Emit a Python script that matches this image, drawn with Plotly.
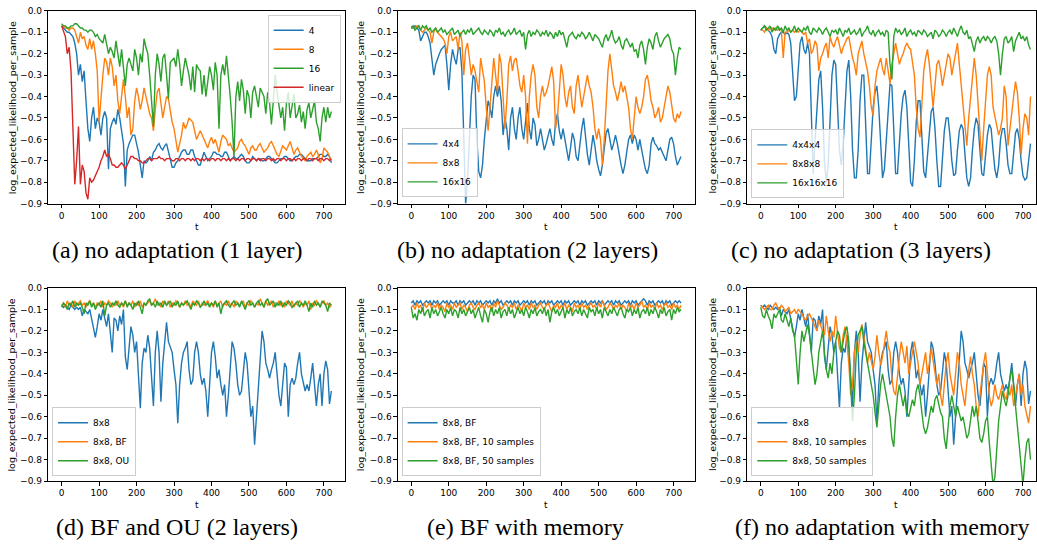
import plotly.graph_objects as go

# ---------------- data (t sampled every 5 steps, 0..720) ----------------
T = list(range(0, 721, 5))
X_TICKS = [0, 100, 200, 300, 400, 500, 600, 700]
Y_TICKS = [0.0, -0.1, -0.2, -0.3, -0.4, -0.5, -0.6, -0.7, -0.8, -0.9]

# (a) no adaptation (1 layer)
a_4 = [-0.07,-0.08,-0.09,-0.10,-0.10,-0.11,-0.12,-0.15,-0.20,-0.30,
       -0.25,-0.33,-0.28,-0.42,-0.55,-0.61,-0.50,-0.45,-0.55,-0.50,
       -0.52,-0.58,-0.50,-0.47,-0.50,-0.74,-0.55,-0.52,-0.50,-0.53,
       -0.46,-0.50,-0.55,-0.62,-0.82,-0.65,-0.62,-0.60,-0.58,-0.58,
       -0.62,-0.66,-0.72,-0.78,-0.70,-0.71,-0.70,-0.68,-0.70,-0.66,
       -0.65,-0.63,-0.62,-0.64,-0.65,-0.63,-0.62,-0.66,-0.70,-0.73,
       -0.73,-0.71,-0.70,-0.68,-0.66,-0.65,-0.65,-0.67,-0.67,-0.65,
       -0.65,-0.68,-0.70,-0.72,-0.72,-0.69,-0.66,-0.68,-0.70,-0.69,
       -0.68,-0.66,-0.66,-0.67,-0.67,-0.68,-0.68,-0.66,-0.66,-0.68,
       -0.70,-0.69,-0.68,-0.69,-0.69,-0.68,-0.67,-0.68,-0.70,-0.71,
       -0.71,-0.70,-0.68,-0.69,-0.70,-0.69,-0.69,-0.70,-0.70,-0.69,
       -0.68,-0.68,-0.69,-0.70,-0.71,-0.71,-0.70,-0.69,-0.69,-0.68,
       -0.68,-0.69,-0.70,-0.70,-0.69,-0.68,-0.68,-0.67,-0.67,-0.68,
       -0.69,-0.70,-0.70,-0.70,-0.69,-0.69,-0.69,-0.68,-0.67,-0.67,
       -0.68,-0.68,-0.67,-0.68,-0.71]
a_8 = [-0.07,-0.07,-0.08,-0.08,-0.09,-0.08,-0.08,-0.09,-0.12,-0.15,
       -0.10,-0.13,-0.12,-0.16,-0.18,-0.13,-0.18,-0.14,-0.20,-0.28,
       -0.52,-0.40,-0.30,-0.22,-0.24,-0.30,-0.22,-0.26,-0.35,-0.30,
       -0.42,-0.48,-0.40,-0.32,-0.40,-0.50,-0.45,-0.58,-0.55,-0.42,
       -0.36,-0.40,-0.46,-0.42,-0.36,-0.40,-0.45,-0.48,-0.50,-0.56,
       -0.46,-0.38,-0.36,-0.42,-0.50,-0.45,-0.40,-0.41,-0.47,-0.52,
       -0.55,-0.60,-0.66,-0.62,-0.58,-0.52,-0.55,-0.53,-0.50,-0.51,
       -0.52,-0.56,-0.60,-0.58,-0.56,-0.58,-0.60,-0.62,-0.64,-0.61,
       -0.59,-0.62,-0.60,-0.63,-0.66,-0.61,-0.58,-0.59,-0.60,-0.63,
       -0.62,-0.64,-0.66,-0.65,-0.64,-0.61,-0.60,-0.62,-0.63,-0.65,
       -0.67,-0.64,-0.63,-0.65,-0.65,-0.63,-0.62,-0.64,-0.66,-0.65,
       -0.64,-0.62,-0.61,-0.63,-0.65,-0.67,-0.68,-0.65,-0.63,-0.64,
       -0.65,-0.63,-0.61,-0.64,-0.67,-0.65,-0.64,-0.66,-0.68,-0.69,
       -0.70,-0.68,-0.67,-0.66,-0.68,-0.67,-0.65,-0.67,-0.71,-0.69,
       -0.64,-0.65,-0.66,-0.68,-0.70]
a_16 = [-0.06,-0.07,-0.07,-0.08,-0.08,-0.07,-0.07,-0.06,-0.06,-0.07,
        -0.08,-0.08,-0.09,-0.09,-0.10,-0.09,-0.09,-0.10,-0.12,-0.11,
        -0.13,-0.14,-0.15,-0.11,-0.15,-0.20,-0.17,-0.19,-0.22,-0.14,
        -0.20,-0.26,-0.18,-0.28,-0.35,-0.25,-0.22,-0.25,-0.28,-0.18,
        -0.22,-0.30,-0.20,-0.24,-0.13,-0.17,-0.20,-0.30,-0.40,-0.54,
        -0.30,-0.20,-0.25,-0.33,-0.22,-0.20,-0.30,-0.41,-0.24,-0.23,
        -0.22,-0.26,-0.18,-0.25,-0.35,-0.28,-0.22,-0.26,-0.30,-0.37,
        -0.26,-0.38,-0.25,-0.27,-0.28,-0.39,-0.30,-0.40,-0.33,-0.26,
        -0.30,-0.37,-0.24,-0.30,-0.55,-0.30,-0.25,-0.30,-0.21,-0.30,
        -0.40,-0.52,-0.68,-0.40,-0.33,-0.42,-0.32,-0.37,-0.48,-0.37,
        -0.40,-0.50,-0.38,-0.35,-0.40,-0.45,-0.36,-0.38,-0.40,-0.48,
        -0.38,-0.43,-0.53,-0.42,-0.30,-0.38,-0.45,-0.50,-0.45,-0.56,
        -0.43,-0.38,-0.50,-0.45,-0.39,-0.50,-0.48,-0.44,-0.52,-0.47,
        -0.55,-0.46,-0.43,-0.50,-0.45,-0.42,-0.52,-0.55,-0.61,-0.50,
        -0.45,-0.52,-0.45,-0.50,-0.47]
a_linear = [-0.07,-0.10,-0.12,-0.20,-0.17,-0.28,-0.55,-0.81,-0.70,-0.54,
            -0.81,-0.72,-0.75,-0.85,-0.88,-0.78,-0.80,-0.79,-0.77,-0.75,
            -0.73,-0.70,-0.68,-0.65,-0.68,-0.67,-0.69,-0.72,-0.72,-0.73,
            -0.73,-0.72,-0.71,-0.72,-0.74,-0.72,-0.70,-0.68,-0.68,-0.69,
            -0.69,-0.70,-0.70,-0.71,-0.71,-0.70,-0.69,-0.69,-0.70,-0.69,
            -0.69,-0.69,-0.68,-0.69,-0.69,-0.70,-0.69,-0.69,-0.69,-0.70,
            -0.70,-0.69,-0.69,-0.70,-0.69,-0.69,-0.70,-0.69,-0.69,-0.70,
            -0.69,-0.70,-0.69,-0.69,-0.70,-0.69,-0.70,-0.69,-0.69,-0.70,
            -0.69,-0.69,-0.70,-0.69,-0.69,-0.70,-0.69,-0.69,-0.70,-0.69,
            -0.70,-0.69,-0.69,-0.70,-0.69,-0.70,-0.69,-0.69,-0.70,-0.69,
            -0.69,-0.70,-0.69,-0.69,-0.70,-0.69,-0.70,-0.69,-0.69,-0.70,
            -0.69,-0.69,-0.70,-0.69,-0.70,-0.69,-0.69,-0.70,-0.69,-0.69,
            -0.70,-0.69,-0.69,-0.70,-0.69,-0.70,-0.69,-0.69,-0.70,-0.69,
            -0.69,-0.70,-0.69,-0.69,-0.70,-0.69,-0.69,-0.70,-0.69,-0.69,
            -0.70,-0.69,-0.69,-0.70,-0.69]

# (b) no adaptation (2 layers)
b_4x4 = [-0.08,-0.08,-0.07,-0.08,-0.09,-0.14,-0.12,-0.10,-0.10,-0.12,
         -0.15,-0.22,-0.30,-0.25,-0.22,-0.20,-0.18,-0.17,-0.16,-0.25,
         -0.37,-0.25,-0.18,-0.22,-0.25,-0.18,-0.17,-0.28,-0.60,-0.90,
         -0.80,-0.60,-0.40,-0.30,-0.32,-0.60,-0.75,-0.78,-0.72,-0.60,
         -0.50,-0.42,-0.45,-0.50,-0.40,-0.35,-0.40,-0.35,-0.42,-0.58,
         -0.50,-0.55,-0.65,-0.50,-0.45,-0.55,-0.60,-0.50,-0.45,-0.55,
         -0.60,-0.50,-0.43,-0.55,-0.60,-0.50,-0.53,-0.63,-0.60,-0.55,
         -0.60,-0.65,-0.62,-0.58,-0.55,-0.60,-0.63,-0.52,-0.48,-0.56,
         -0.60,-0.55,-0.60,-0.66,-0.70,-0.64,-0.57,-0.60,-0.68,-0.70,
         -0.62,-0.55,-0.50,-0.60,-0.67,-0.72,-0.65,-0.58,-0.63,-0.70,
         -0.74,-0.77,-0.72,-0.64,-0.57,-0.55,-0.60,-0.65,-0.62,-0.58,
         -0.62,-0.68,-0.72,-0.76,-0.72,-0.66,-0.60,-0.58,-0.62,-0.58,
         -0.60,-0.65,-0.60,-0.65,-0.70,-0.74,-0.76,-0.72,-0.62,-0.59,
         -0.62,-0.63,-0.65,-0.64,-0.66,-0.68,-0.70,-0.65,-0.60,-0.59,
         -0.62,-0.68,-0.72,-0.70,-0.68]
b_8x8 = [-0.07,-0.08,-0.08,-0.07,-0.07,-0.09,-0.10,-0.09,-0.08,-0.09,
         -0.10,-0.15,-0.10,-0.08,-0.10,-0.11,-0.12,-0.13,-0.15,-0.20,
         -0.12,-0.10,-0.14,-0.13,-0.12,-0.18,-0.10,-0.14,-0.30,-0.18,
         -0.15,-0.22,-0.30,-0.25,-0.28,-0.33,-0.38,-0.22,-0.27,-0.33,
         -0.45,-0.56,-0.45,-0.35,-0.22,-0.30,-0.38,-0.20,-0.25,-0.40,
         -0.55,-0.42,-0.25,-0.21,-0.28,-0.23,-0.22,-0.28,-0.35,-0.38,
         -0.30,-0.40,-0.62,-0.40,-0.30,-0.25,-0.30,-0.45,-0.50,-0.40,
         -0.35,-0.40,-0.38,-0.35,-0.30,-0.26,-0.33,-0.55,-0.50,-0.35,
         -0.25,-0.30,-0.40,-0.45,-0.38,-0.35,-0.45,-0.48,-0.35,-0.30,
         -0.38,-0.45,-0.40,-0.35,-0.30,-0.35,-0.38,-0.45,-0.55,-0.60,
         -0.55,-0.60,-0.72,-0.60,-0.40,-0.28,-0.20,-0.28,-0.35,-0.38,
         -0.42,-0.38,-0.33,-0.38,-0.35,-0.40,-0.45,-0.55,-0.60,-0.50,
         -0.40,-0.45,-0.48,-0.45,-0.40,-0.32,-0.30,-0.35,-0.42,-0.45,
         -0.50,-0.48,-0.45,-0.52,-0.50,-0.45,-0.40,-0.35,-0.38,-0.45,
         -0.50,-0.52,-0.48,-0.50,-0.47]
b_16x16 = [-0.08,-0.07,-0.09,-0.08,-0.07,-0.09,-0.07,-0.08,-0.07,-0.09,
           -0.08,-0.10,-0.09,-0.08,-0.10,-0.09,-0.08,-0.10,-0.09,-0.11,
           -0.10,-0.09,-0.08,-0.11,-0.10,-0.09,-0.12,-0.10,-0.09,-0.11,
           -0.09,-0.10,-0.08,-0.11,-0.10,-0.09,-0.08,-0.10,-0.11,-0.09,
           -0.10,-0.11,-0.09,-0.10,-0.12,-0.09,-0.10,-0.08,-0.11,-0.10,
           -0.12,-0.10,-0.09,-0.11,-0.10,-0.08,-0.11,-0.10,-0.09,-0.12,
           -0.10,-0.18,-0.11,-0.09,-0.12,-0.10,-0.11,-0.09,-0.10,-0.12,
           -0.10,-0.11,-0.09,-0.12,-0.10,-0.11,-0.13,-0.10,-0.12,-0.09,
           -0.11,-0.10,-0.13,-0.17,-0.12,-0.11,-0.10,-0.12,-0.13,-0.11,
           -0.12,-0.10,-0.11,-0.13,-0.12,-0.10,-0.12,-0.14,-0.11,-0.12,
           -0.13,-0.15,-0.17,-0.13,-0.11,-0.14,-0.12,-0.09,-0.13,-0.15,
           -0.14,-0.12,-0.16,-0.18,-0.14,-0.13,-0.15,-0.17,-0.15,-0.19,
           -0.18,-0.22,-0.16,-0.14,-0.18,-0.25,-0.17,-0.13,-0.15,-0.18,
           -0.12,-0.10,-0.14,-0.17,-0.15,-0.13,-0.12,-0.11,-0.13,-0.18,
           -0.20,-0.30,-0.22,-0.17,-0.18]

# (c) no adaptation (3 layers)
c_4x4x4 = [-0.09,-0.08,-0.07,-0.08,-0.09,-0.10,-0.12,-0.18,-0.20,-0.13,
           -0.11,-0.10,-0.10,-0.11,-0.10,-0.11,-0.15,-0.30,-0.42,-0.40,
           -0.25,-0.15,-0.12,-0.18,-0.20,-0.15,-0.20,-0.50,-0.76,-0.60,
           -0.45,-0.32,-0.28,-0.45,-0.70,-0.80,-0.72,-0.50,-0.30,-0.23,
           -0.25,-0.45,-0.65,-0.72,-0.62,-0.45,-0.28,-0.23,-0.40,-0.65,
           -0.78,-0.78,-0.65,-0.42,-0.30,-0.30,-0.55,-0.76,-0.76,-0.60,
           -0.45,-0.38,-0.35,-0.45,-0.65,-0.78,-0.74,-0.60,-0.45,-0.34,
           -0.35,-0.55,-0.76,-0.76,-0.62,-0.48,-0.40,-0.37,-0.45,-0.65,
           -0.80,-0.82,-0.70,-0.52,-0.42,-0.42,-0.58,-0.75,-0.78,-0.68,
           -0.55,-0.47,-0.45,-0.55,-0.70,-0.82,-0.82,-0.70,-0.56,-0.50,
           -0.50,-0.58,-0.70,-0.77,-0.76,-0.65,-0.56,-0.53,-0.55,-0.67,
           -0.78,-0.82,-0.78,-0.65,-0.55,-0.50,-0.53,-0.65,-0.76,-0.77,
           -0.68,-0.58,-0.53,-0.55,-0.65,-0.74,-0.78,-0.72,-0.60,-0.55,
           -0.55,-0.62,-0.72,-0.76,-0.76,-0.66,-0.57,-0.55,-0.60,-0.70,
           -0.77,-0.79,-0.78,-0.70,-0.62]
c_8x8x8 = [-0.09,-0.09,-0.10,-0.08,-0.09,-0.08,-0.08,-0.09,-0.08,-0.09,
           -0.08,-0.09,-0.22,-0.10,-0.10,-0.09,-0.10,-0.09,-0.10,-0.09,
           -0.10,-0.09,-0.10,-0.11,-0.10,-0.15,-0.13,-0.20,-0.18,-0.14,
           -0.16,-0.28,-0.22,-0.20,-0.17,-0.15,-0.22,-0.12,-0.15,-0.17,
           -0.14,-0.12,-0.16,-0.20,-0.17,-0.15,-0.13,-0.12,-0.18,-0.22,
           -0.25,-0.30,-0.20,-0.17,-0.14,-0.20,-0.24,-0.28,-0.35,-0.45,
           -0.49,-0.35,-0.28,-0.25,-0.22,-0.27,-0.30,-0.22,-0.28,-0.34,
           -0.25,-0.20,-0.15,-0.20,-0.25,-0.22,-0.20,-0.17,-0.15,-0.17,
           -0.18,-0.24,-0.30,-0.45,-0.55,-0.59,-0.40,-0.28,-0.22,-0.18,
           -0.25,-0.35,-0.45,-0.35,-0.25,-0.23,-0.28,-0.35,-0.30,-0.25,
           -0.20,-0.22,-0.30,-0.25,-0.20,-0.15,-0.25,-0.35,-0.45,-0.55,
           -0.63,-0.50,-0.40,-0.30,-0.22,-0.30,-0.45,-0.60,-0.70,-0.55,
           -0.40,-0.30,-0.26,-0.30,-0.45,-0.50,-0.55,-0.58,-0.55,-0.50,
           -0.35,-0.40,-0.63,-0.55,-0.45,-0.40,-0.33,-0.38,-0.50,-0.67,
           -0.55,-0.48,-0.50,-0.58,-0.40]
c_16x16x16 = [-0.09,-0.08,-0.07,-0.09,-0.08,-0.07,-0.10,-0.08,-0.09,-0.07,
              -0.09,-0.08,-0.10,-0.07,-0.09,-0.08,-0.10,-0.09,-0.07,-0.10,
              -0.08,-0.09,-0.10,-0.08,-0.09,-0.07,-0.10,-0.11,-0.08,-0.09,
              -0.10,-0.08,-0.09,-0.11,-0.09,-0.08,-0.10,-0.12,-0.09,-0.10,
              -0.09,-0.11,-0.08,-0.10,-0.12,-0.09,-0.10,-0.08,-0.11,-0.10,
              -0.09,-0.11,-0.10,-0.08,-0.12,-0.10,-0.09,-0.07,-0.10,-0.11,
              -0.09,-0.12,-0.10,-0.09,-0.11,-0.10,-0.12,-0.09,-0.10,-0.25,
              -0.32,-0.12,-0.08,-0.10,-0.09,-0.11,-0.10,-0.08,-0.12,-0.10,
              -0.09,-0.11,-0.10,-0.12,-0.09,-0.10,-0.11,-0.09,-0.10,-0.12,
              -0.11,-0.10,-0.13,-0.09,-0.10,-0.12,-0.11,-0.09,-0.10,-0.12,
              -0.10,-0.09,-0.11,-0.08,-0.10,-0.12,-0.09,-0.07,-0.10,-0.11,
              -0.09,-0.13,-0.12,-0.15,-0.19,-0.14,-0.12,-0.15,-0.13,-0.12,
              -0.14,-0.12,-0.13,-0.15,-0.13,-0.12,-0.14,-0.20,-0.30,-0.20,
              -0.13,-0.12,-0.15,-0.14,-0.12,-0.19,-0.14,-0.12,-0.10,-0.13,
              -0.12,-0.14,-0.12,-0.16,-0.18]

# (d) BF and OU (2 layers);  the 8x8 run is shared with panel (f)
d_8x8 = [-0.08,-0.09,-0.08,-0.09,-0.10,-0.08,-0.09,-0.10,-0.09,-0.10,
         -0.09,-0.13,-0.10,-0.11,-0.12,-0.10,-0.15,-0.20,-0.23,-0.18,
         -0.12,-0.15,-0.10,-0.14,-0.18,-0.12,-0.20,-0.30,-0.14,-0.15,
         -0.20,-0.13,-0.17,-0.10,-0.32,-0.38,-0.28,-0.18,-0.22,-0.30,
         -0.25,-0.40,-0.56,-0.35,-0.28,-0.30,-0.22,-0.28,-0.40,-0.55,
         -0.30,-0.20,-0.30,-0.53,-0.35,-0.25,-0.16,-0.25,-0.28,-0.30,
         -0.38,-0.45,-0.63,-0.45,-0.35,-0.30,-0.28,-0.25,-0.38,-0.45,
         -0.43,-0.30,-0.25,-0.30,-0.40,-0.45,-0.42,-0.48,-0.60,-0.45,
         -0.30,-0.25,-0.32,-0.42,-0.38,-0.45,-0.50,-0.45,-0.60,-0.50,
         -0.35,-0.25,-0.28,-0.35,-0.45,-0.50,-0.48,-0.40,-0.30,-0.35,
         -0.50,-0.60,-0.55,-0.73,-0.60,-0.45,-0.30,-0.20,-0.25,-0.35,
         -0.38,-0.42,-0.38,-0.35,-0.30,-0.40,-0.50,-0.55,-0.45,-0.35,
         -0.37,-0.60,-0.45,-0.42,-0.45,-0.42,-0.35,-0.30,-0.40,-0.45,
         -0.48,-0.45,-0.48,-0.42,-0.35,-0.45,-0.55,-0.45,-0.40,-0.55,
         -0.40,-0.34,-0.38,-0.54,-0.48]
d_8x8_bf = [-0.08,-0.07,-0.09,-0.06,-0.08,-0.07,-0.09,-0.06,-0.08,-0.07,
            -0.06,-0.08,-0.07,-0.09,-0.07,-0.06,-0.08,-0.07,-0.09,-0.07,
            -0.08,-0.06,-0.09,-0.07,-0.08,-0.06,-0.07,-0.09,-0.07,-0.08,
            -0.06,-0.08,-0.07,-0.09,-0.06,-0.08,-0.07,-0.08,-0.06,-0.09,
            -0.07,-0.08,-0.06,-0.09,-0.07,-0.08,-0.07,-0.06,-0.08,-0.07,
            -0.05,-0.08,-0.07,-0.09,-0.06,-0.07,-0.08,-0.06,-0.09,-0.07,
            -0.08,-0.06,-0.07,-0.09,-0.07,-0.08,-0.06,-0.08,-0.07,-0.09,
            -0.06,-0.07,-0.08,-0.06,-0.09,-0.07,-0.08,-0.07,-0.06,-0.08,
            -0.07,-0.09,-0.06,-0.08,-0.07,-0.06,-0.09,-0.07,-0.08,-0.06,
            -0.08,-0.07,-0.09,-0.06,-0.07,-0.08,-0.07,-0.06,-0.09,-0.07,
            -0.08,-0.06,-0.07,-0.09,-0.07,-0.08,-0.05,-0.07,-0.09,-0.06,
            -0.08,-0.07,-0.06,-0.09,-0.07,-0.08,-0.06,-0.08,-0.07,-0.09,
            -0.06,-0.07,-0.08,-0.06,-0.09,-0.07,-0.08,-0.06,-0.07,-0.09,
            -0.07,-0.08,-0.06,-0.10,-0.07,-0.08,-0.06,-0.07,-0.09,-0.07,
            -0.06,-0.08,-0.07,-0.09,-0.08]
d_8x8_ou = [-0.09,-0.07,-0.08,-0.10,-0.07,-0.08,-0.06,-0.09,-0.07,-0.08,
            -0.07,-0.09,-0.12,-0.07,-0.08,-0.06,-0.09,-0.07,-0.10,-0.08,
            -0.07,-0.09,-0.06,-0.13,-0.08,-0.07,-0.09,-0.07,-0.08,-0.06,
            -0.08,-0.09,-0.07,-0.08,-0.06,-0.09,-0.07,-0.08,-0.10,-0.07,
            -0.08,-0.06,-0.09,-0.12,-0.07,-0.08,-0.06,-0.05,-0.08,-0.07,
            -0.09,-0.06,-0.08,-0.07,-0.09,-0.06,-0.08,-0.07,-0.06,-0.09,
            -0.07,-0.08,-0.06,-0.09,-0.07,-0.08,-0.07,-0.06,-0.08,-0.10,
            -0.07,-0.08,-0.06,-0.07,-0.09,-0.08,-0.06,-0.08,-0.07,-0.09,
            -0.07,-0.08,-0.06,-0.09,-0.07,-0.12,-0.08,-0.07,-0.06,-0.08,
            -0.09,-0.07,-0.06,-0.08,-0.07,-0.09,-0.06,-0.08,-0.10,-0.07,
            -0.06,-0.08,-0.07,-0.09,-0.07,-0.06,-0.08,-0.07,-0.09,-0.06,
            -0.05,-0.08,-0.07,-0.06,-0.09,-0.07,-0.08,-0.06,-0.09,-0.07,
            -0.08,-0.06,-0.07,-0.09,-0.08,-0.07,-0.06,-0.09,-0.07,-0.08,
            -0.06,-0.08,-0.11,-0.07,-0.09,-0.06,-0.08,-0.07,-0.09,-0.06,
            -0.07,-0.08,-0.11,-0.07,-0.08]

# (e) BF with memory
e_bf = [-0.07,-0.06,-0.08,-0.06,-0.07,-0.06,-0.08,-0.07,-0.06,-0.07,
        -0.06,-0.08,-0.06,-0.07,-0.06,-0.08,-0.07,-0.06,-0.07,-0.06,
        -0.08,-0.06,-0.07,-0.07,-0.06,-0.08,-0.06,-0.07,-0.06,-0.08,
        -0.07,-0.06,-0.07,-0.06,-0.08,-0.06,-0.07,-0.06,-0.08,-0.07,
        -0.06,-0.07,-0.06,-0.08,-0.06,-0.07,-0.05,-0.07,-0.06,-0.08,
        -0.07,-0.06,-0.07,-0.06,-0.08,-0.06,-0.07,-0.06,-0.08,-0.07,
        -0.06,-0.07,-0.06,-0.08,-0.06,-0.07,-0.06,-0.08,-0.07,-0.06,
        -0.07,-0.06,-0.08,-0.06,-0.07,-0.06,-0.08,-0.07,-0.06,-0.07,
        -0.06,-0.08,-0.06,-0.07,-0.06,-0.08,-0.07,-0.06,-0.07,-0.06,
        -0.08,-0.06,-0.07,-0.06,-0.08,-0.07,-0.06,-0.07,-0.06,-0.08,
        -0.06,-0.07,-0.06,-0.08,-0.07,-0.06,-0.07,-0.06,-0.08,-0.06,
        -0.07,-0.06,-0.08,-0.07,-0.06,-0.07,-0.06,-0.08,-0.06,-0.07,
        -0.06,-0.08,-0.07,-0.06,-0.05,-0.06,-0.08,-0.06,-0.07,-0.06,
        -0.08,-0.07,-0.06,-0.07,-0.06,-0.08,-0.06,-0.07,-0.06,-0.08,
        -0.07,-0.06,-0.07,-0.06,-0.07]
e_bf_10 = [-0.09,-0.08,-0.10,-0.07,-0.09,-0.08,-0.11,-0.07,-0.09,-0.08,
           -0.07,-0.10,-0.08,-0.09,-0.07,-0.10,-0.08,-0.09,-0.11,-0.07,
           -0.09,-0.08,-0.10,-0.07,-0.09,-0.08,-0.07,-0.10,-0.08,-0.09,
           -0.11,-0.08,-0.07,-0.09,-0.10,-0.08,-0.07,-0.09,-0.08,-0.10,
           -0.07,-0.09,-0.08,-0.11,-0.07,-0.09,-0.06,-0.08,-0.10,-0.09,
           -0.07,-0.08,-0.10,-0.08,-0.09,-0.07,-0.10,-0.08,-0.09,-0.11,
           -0.07,-0.09,-0.08,-0.10,-0.07,-0.09,-0.08,-0.10,-0.08,-0.07,
           -0.09,-0.10,-0.08,-0.07,-0.09,-0.11,-0.08,-0.09,-0.07,-0.10,
           -0.08,-0.09,-0.07,-0.10,-0.08,-0.09,-0.11,-0.07,-0.09,-0.08,
           -0.10,-0.07,-0.09,-0.08,-0.10,-0.08,-0.07,-0.09,-0.08,-0.10,
           -0.07,-0.09,-0.06,-0.08,-0.10,-0.09,-0.07,-0.08,-0.10,-0.08,
           -0.09,-0.07,-0.10,-0.08,-0.09,-0.11,-0.07,-0.09,-0.08,-0.10,
           -0.07,-0.09,-0.08,-0.06,-0.09,-0.08,-0.10,-0.07,-0.09,-0.08,
           -0.10,-0.07,-0.09,-0.08,-0.10,-0.08,-0.07,-0.09,-0.08,-0.10,
           -0.07,-0.09,-0.08,-0.10,-0.08]
e_bf_50 = [-0.09,-0.14,-0.12,-0.15,-0.10,-0.12,-0.09,-0.13,-0.11,-0.10,
           -0.14,-0.09,-0.12,-0.10,-0.13,-0.11,-0.09,-0.12,-0.14,-0.10,
           -0.12,-0.09,-0.13,-0.10,-0.11,-0.14,-0.09,-0.12,-0.10,-0.13,
           -0.11,-0.09,-0.12,-0.10,-0.14,-0.11,-0.09,-0.13,-0.16,-0.10,
           -0.12,-0.16,-0.11,-0.09,-0.13,-0.10,-0.12,-0.09,-0.14,-0.11,
           -0.10,-0.13,-0.09,-0.12,-0.10,-0.14,-0.11,-0.09,-0.12,-0.10,
           -0.13,-0.09,-0.11,-0.14,-0.10,-0.12,-0.09,-0.13,-0.11,-0.10,
           -0.12,-0.09,-0.13,-0.10,-0.16,-0.11,-0.09,-0.12,-0.10,-0.13,
           -0.11,-0.09,-0.14,-0.10,-0.12,-0.09,-0.13,-0.11,-0.10,-0.12,
           -0.09,-0.13,-0.10,-0.12,-0.14,-0.09,-0.11,-0.10,-0.13,-0.09,
           -0.12,-0.10,-0.14,-0.09,-0.11,-0.13,-0.10,-0.12,-0.09,-0.11,
           -0.13,-0.10,-0.09,-0.12,-0.14,-0.10,-0.11,-0.09,-0.13,-0.10,
           -0.12,-0.09,-0.14,-0.11,-0.10,-0.12,-0.09,-0.13,-0.10,-0.12,
           -0.09,-0.11,-0.14,-0.10,-0.12,-0.09,-0.13,-0.11,-0.10,-0.15,
           -0.10,-0.12,-0.09,-0.11,-0.10]

# (f) no adaptation with memory
f_8x8_10 = [-0.08,-0.09,-0.10,-0.09,-0.08,-0.10,-0.10,-0.08,-0.07,-0.09,
            -0.10,-0.08,-0.09,-0.11,-0.10,-0.09,-0.12,-0.11,-0.10,-0.12,
            -0.10,-0.11,-0.12,-0.14,-0.15,-0.13,-0.12,-0.14,-0.16,-0.18,
            -0.20,-0.15,-0.18,-0.20,-0.22,-0.13,-0.20,-0.25,-0.20,-0.23,
            -0.13,-0.20,-0.28,-0.30,-0.22,-0.18,-0.25,-0.35,-0.50,-0.45,
            -0.30,-0.25,-0.30,-0.22,-0.17,-0.22,-0.28,-0.35,-0.30,-0.35,
            -0.38,-0.32,-0.22,-0.30,-0.36,-0.32,-0.25,-0.20,-0.27,-0.30,
            -0.42,-0.48,-0.50,-0.40,-0.32,-0.25,-0.30,-0.35,-0.27,-0.40,
            -0.35,-0.30,-0.25,-0.30,-0.35,-0.45,-0.40,-0.35,-0.30,-0.40,
            -0.35,-0.28,-0.33,-0.40,-0.45,-0.40,-0.50,-0.55,-0.45,-0.35,
            -0.30,-0.40,-0.45,-0.50,-0.40,-0.30,-0.35,-0.45,-0.50,-0.55,
            -0.45,-0.38,-0.32,-0.40,-0.45,-0.55,-0.60,-0.50,-0.42,-0.35,
            -0.30,-0.40,-0.50,-0.55,-0.52,-0.45,-0.50,-0.52,-0.48,-0.45,
            -0.50,-0.52,-0.47,-0.50,-0.45,-0.55,-0.50,-0.45,-0.40,-0.50,
            -0.45,-0.55,-0.60,-0.63,-0.55]
f_8x8_50 = [-0.09,-0.13,-0.14,-0.10,-0.13,-0.15,-0.19,-0.12,-0.14,-0.12,
            -0.10,-0.15,-0.16,-0.12,-0.15,-0.18,-0.14,-0.20,-0.22,-0.35,
            -0.45,-0.30,-0.20,-0.25,-0.20,-0.17,-0.22,-0.30,-0.40,-0.45,
            -0.40,-0.30,-0.25,-0.20,-0.30,-0.38,-0.42,-0.35,-0.40,-0.30,
            -0.25,-0.20,-0.22,-0.30,-0.25,-0.20,-0.18,-0.25,-0.45,-0.62,
            -0.50,-0.30,-0.22,-0.20,-0.18,-0.25,-0.30,-0.35,-0.40,-0.45,
            -0.50,-0.58,-0.65,-0.55,-0.45,-0.40,-0.45,-0.50,-0.55,-0.60,
            -0.70,-0.74,-0.60,-0.50,-0.45,-0.50,-0.55,-0.50,-0.58,-0.60,
            -0.55,-0.52,-0.55,-0.48,-0.45,-0.50,-0.58,-0.65,-0.68,-0.65,
            -0.60,-0.55,-0.58,-0.52,-0.50,-0.55,-0.58,-0.60,-0.70,-0.75,
            -0.65,-0.55,-0.50,-0.55,-0.60,-0.55,-0.58,-0.62,-0.60,-0.65,
            -0.70,-0.68,-0.62,-0.55,-0.60,-0.55,-0.62,-0.70,-0.72,-0.68,
            -0.62,-0.60,-0.72,-0.85,-0.92,-0.88,-0.75,-0.62,-0.55,-0.48,
            -0.52,-0.55,-0.50,-0.42,-0.38,-0.45,-0.55,-0.65,-0.75,-0.82,
            -0.92,-0.80,-0.72,-0.70,-0.80]

CAPTIONS = ["(a) no adaptation (1 layer)", "(b) no adaptation (2 layers)",
            "(c) no adaptation (3 layers)", "(d) BF and OU (2 layers)",
            "(e) BF with memory", "(f) no adaptation with memory"]
Y_TITLE = "log_expected_likelihood_per_sample"
X_TITLE = "t"

BLUE, ORANGE, GREEN, RED = "#1f77b4", "#ff7f0e", "#2ca02c", "#d62728"

PANELS = [
    [("4", a_4, BLUE), ("8", a_8, ORANGE), ("16", a_16, GREEN), ("linear", a_linear, RED)],
    [("4x4", b_4x4, BLUE), ("8x8", b_8x8, ORANGE), ("16x16", b_16x16, GREEN)],
    [("4x4x4", c_4x4x4, BLUE), ("8x8x8", c_8x8x8, ORANGE), ("16x16x16", c_16x16x16, GREEN)],
    [("8x8", d_8x8, BLUE), ("8x8, BF", d_8x8_bf, ORANGE), ("8x8, OU", d_8x8_ou, GREEN)],
    [("8x8, BF", e_bf, BLUE), ("8x8, BF, 10 samples", e_bf_10, ORANGE), ("8x8, BF, 50 samples", e_bf_50, GREEN)],
    [("8x8", d_8x8, BLUE), ("8x8, 10 samples", f_8x8_10, ORANGE), ("8x8, 50 samples", f_8x8_50, GREEN)],
]

# ---------------- layout geometry (pixels) ----------------
W, H = 1037, 546
COLS = [(48.2, 345.2, [-36, 756]), (398.2, 695.2, [-36, 756]), (748.0, 1037.0, [-36, 734.7])]
ROWS = [(6.0, 202.3), (288.3, 485.0)]
YTITLE_X = [12, 361, 713]
CAP_X = [178, 528, 862, 177, 526, 883]
XT_CENTER = [196.7, 546.7, 896.5]
LEGENDS = [(341, 10, "right", "top"), (402, 196, "left", "bottom"), (752, 197, "left", "bottom"),
           (52, 480, "left", "bottom"), (402, 480, "left", "bottom"), (752, 480, "left", "bottom")]

fig = go.Figure()
annotations = []
layout = dict(width=W, height=H, margin=dict(l=0, r=0, t=0, b=0),
              paper_bgcolor="white", plot_bgcolor="white", showlegend=True,
              font=dict(family="DejaVu Sans", size=9, color="black"))

for i, series in enumerate(PANELS):
    r, c = divmod(i, 3)
    x0, x1, xr = COLS[c]
    top, bot = ROWS[r]
    suffix = "" if i == 0 else str(i + 1)
    legname = "legend" + suffix
    for name, vals, color in series:
        fig.add_trace(go.Scatter(
            x=T[:len(vals)], y=vals, mode="lines", name=name,
            line=dict(color=color, width=1.4),
            xaxis="x" + suffix, yaxis="y" + suffix, legend=legname))
    layout["xaxis" + suffix] = dict(
        domain=[x0 / W, x1 / W], range=xr, anchor="y" + suffix,
        tickvals=X_TICKS, ticks="outside", ticklen=3.5, tickwidth=0.8, tickcolor="black",
        showline=True, linecolor="black", linewidth=0.8, mirror=True,
        showgrid=False, zeroline=False, tickfont=dict(size=9, color="black"))
    layout["yaxis" + suffix] = dict(
        domain=[1 - bot / H, 1 - top / H], range=[-0.9, 0.0], anchor="x" + suffix,
        tickvals=Y_TICKS, tickformat=".1f", ticks="outside", ticklen=3.5, tickwidth=0.8,
        tickcolor="black", showline=True, linecolor="black", linewidth=0.8, mirror=True,
        showgrid=False, zeroline=False, tickfont=dict(size=9, color="black"))
    lx, ly, xa, ya = LEGENDS[i]
    layout[legname] = dict(
        x=lx / W, y=1 - ly / H, xanchor=xa, yanchor=ya, xref="paper", yref="paper",
        bgcolor="rgba(255,255,255,0.8)", bordercolor="#cccccc", borderwidth=1,
        font=dict(size=9, family="DejaVu Sans", color="black"),
        itemwidth=30, tracegroupgap=0)
    annotations.append(dict(
        text=Y_TITLE, textangle=-90, x=YTITLE_X[c] / W, y=1 - (top + bot) / 2 / H,
        xref="paper", yref="paper", showarrow=False, xanchor="center", yanchor="middle",
        font=dict(size=9.5, family="DejaVu Sans", color="black")))
    annotations.append(dict(
        text=X_TITLE, x=XT_CENTER[c] / W, y=1 - (bot + 24) / H,
        xref="paper", yref="paper", showarrow=False, xanchor="center", yanchor="middle",
        font=dict(size=9, family="DejaVu Sans", color="black")))
    annotations.append(dict(
        text=CAPTIONS[i], x=CAP_X[i] / W, y=1 - (bot + 47) / H,
        xref="paper", yref="paper", showarrow=False, xanchor="center", yanchor="middle",
        font=dict(size=24, family="Liberation Serif", color="black")))

layout["annotations"] = annotations
fig.update_layout(**layout)
fig.write_html("out.html")
